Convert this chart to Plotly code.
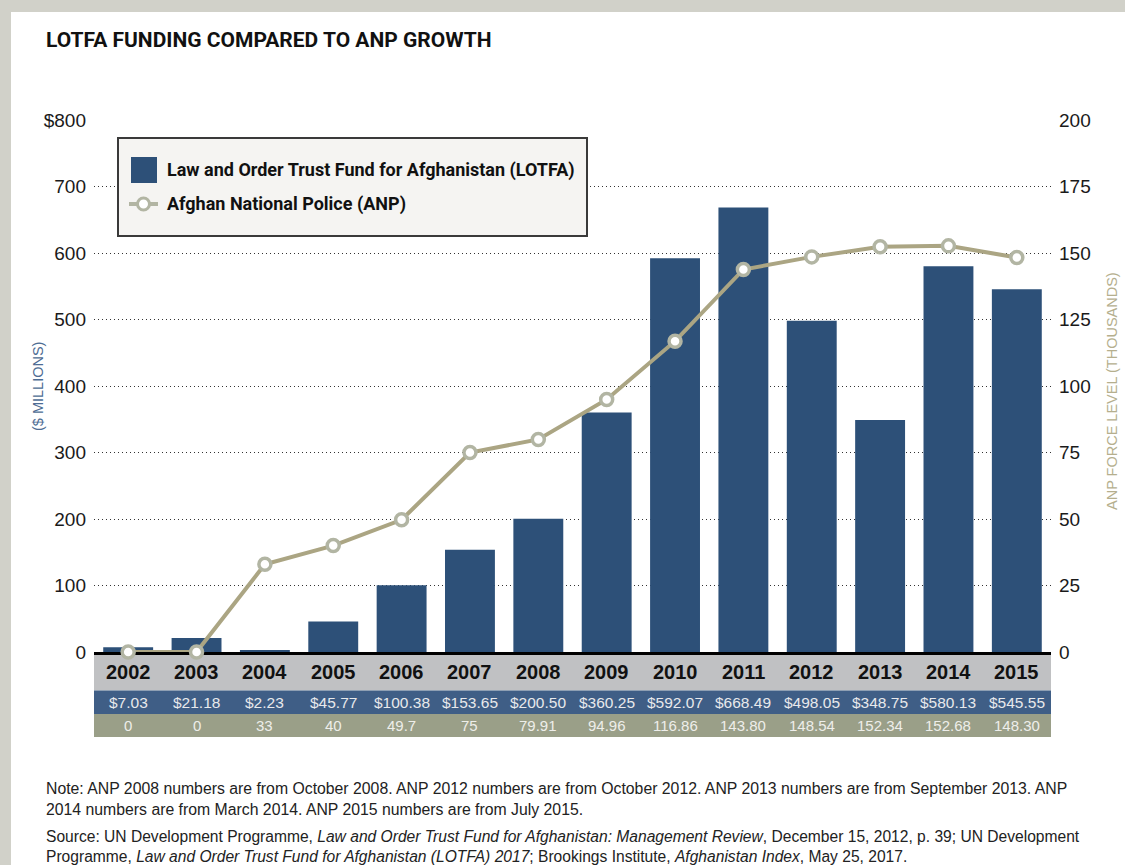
import plotly.graph_objects as go

years = ["2002", "2003", "2004", "2005", "2006", "2007", "2008", "2009",
         "2010", "2011", "2012", "2013", "2014", "2015"]
lotfa = [7.03, 21.18, 2.23, 45.77, 100.38, 153.65, 200.50, 360.25,
         592.07, 668.49, 498.05, 348.75, 580.13, 545.55]
lotfa_labels = ["$7.03", "$21.18", "$2.23", "$45.77", "$100.38", "$153.65", "$200.50",
                "$360.25", "$592.07", "$668.49", "$498.05", "$348.75", "$580.13", "$545.55"]
anp = [0, 0, 33, 40, 49.7, 75, 79.91, 94.96, 116.86, 143.80, 148.54, 152.34, 152.68, 148.30]
anp_labels = ["0", "0", "33", "40", "49.7", "75", "79.91", "94.96", "116.86",
              "143.80", "148.54", "152.34", "152.68", "148.30"]
left_ticks = [0, 100, 200, 300, 400, 500, 600, 700, 800]
left_ticktext = ["0", "100", "200", "300", "400", "500", "600", "700", "$800"]
right_ticks = [0, 25, 50, 75, 100, 125, 150, 175, 200]

W, H = 1125, 865
L, R, T, B = 94, 1051, 120, 652

NAVY = "#2D5078"
KHAKI = "#ABA583"
MARK = "#B2B5A3"
BOLDN = "Roboto, Liberation Sans, Arial, sans-serif"
SANS = "Liberation Sans, Arial, sans-serif"


def px(x):
    return (x - L) / (R - L)


def py(y):
    return (B - y) / (B - T)


fig = go.Figure()
fig.add_trace(go.Bar(x=years, y=lotfa, marker=dict(color=NAVY, line=dict(width=0)),
                     width=0.73, name="Law and Order Trust Fund for Afghanistan (LOTFA)",
                     showlegend=False))
fig.add_trace(go.Scatter(x=years, y=anp, yaxis="y2", mode="lines+markers",
                         line=dict(color=KHAKI, width=4),
                         marker=dict(size=12, color="white", line=dict(color=MARK, width=3.5)),
                         cliponaxis=False, name="Afghan National Police (ANP)",
                         showlegend=False))

shapes = []
annotations = []

# page panel
shapes.append(dict(type="rect", xref="paper", yref="paper", layer="below",
                   x0=px(11), x1=px(1135), y0=py(875), y1=py(12),
                   fillcolor="white", line=dict(width=0)))

# table rows
rows = [(B, 690.5, "#C0C1C3"), (690.5, 714, "#3F5E86"), (714, 737, "#9A9F88")]
for y0, y1, c in rows:
    shapes.append(dict(type="rect", xref="paper", yref="paper", layer="below",
                       x0=0, x1=1, y0=py(y1), y1=py(y0), fillcolor=c, line=dict(width=0)))

# table text: category axis positions (index of each category)
for i, yr in enumerate(years):
    annotations.append(dict(x=i, xref="x", y=py(672), yref="paper", text=yr,
                            showarrow=False, xanchor="center", yanchor="middle",
                            font=dict(family=SANS, size=20, color="#111", weight="bold")))
    annotations.append(dict(x=i, xref="x", y=py(702.5), yref="paper", text=lotfa_labels[i],
                            showarrow=False, xanchor="center", yanchor="middle",
                            font=dict(family=SANS, size=15.5, color="#E8E9EC")))
    annotations.append(dict(x=i, xref="x", y=py(725.5), yref="paper", text=anp_labels[i],
                            showarrow=False, xanchor="center", yanchor="middle",
                            font=dict(family=SANS, size=15, color="#EEEEEA")))

# legend box
shapes.append(dict(type="rect", xref="paper", yref="paper", layer="above",
                   x0=px(118), x1=px(587), y0=py(236), y1=py(138),
                   fillcolor="#F5F4F2", line=dict(color="#3a3a3a", width=2)))
shapes.append(dict(type="rect", xref="paper", yref="paper", layer="above",
                   x0=px(131), x1=px(157), y0=py(183), y1=py(157),
                   fillcolor=NAVY, line=dict(width=0)))
shapes.append(dict(type="line", xref="paper", yref="paper", layer="above",
                   x0=px(129), x1=px(158), y0=py(204), y1=py(204),
                   line=dict(color=MARK, width=4)))
shapes.append(dict(type="circle", xref="paper", yref="paper", layer="above",
                   x0=px(137.5), x1=px(149.5), y0=py(210), y1=py(198),
                   fillcolor="white", line=dict(color=MARK, width=3)))
annotations.append(dict(x=px(165), y=py(170), xref="paper", yref="paper",
                        text="Law and Order Trust Fund for Afghanistan (LOTFA)",
                        showarrow=False, xanchor="left", yanchor="middle",
                        font=dict(family=BOLDN, size=18, color="#111", weight="bold")))
annotations.append(dict(x=px(165), y=py(204), xref="paper", yref="paper",
                        text="Afghan National Police (ANP)",
                        showarrow=False, xanchor="left", yanchor="middle",
                        font=dict(family=BOLDN, size=18, color="#111", weight="bold")))

# title
annotations.append(dict(x=px(44), y=py(40), xref="paper", yref="paper",
                        text="LOTFA FUNDING COMPARED TO ANP GROWTH",
                        showarrow=False, xanchor="left", yanchor="middle",
                        font=dict(family=BOLDN, size=21, color="#111", weight="bold")))

# axis titles
annotations.append(dict(x=px(38), y=py(387), xref="paper", yref="paper",
                        text="($ MILLIONS)", textangle=-90, showarrow=False,
                        xanchor="center", yanchor="middle",
                        font=dict(family=SANS, size=14.5, color="#4D6C93")))
annotations.append(dict(x=px(1112), y=py(391), xref="paper", yref="paper",
                        text="ANP FORCE LEVEL (THOUSANDS)", textangle=-90, showarrow=False,
                        xanchor="center", yanchor="middle",
                        font=dict(family=SANS, size=14.5, color="#B5AF8E")))

# notes
note = ("Note: ANP 2008 numbers are from October 2008. ANP 2012 numbers are from October 2012. "
        "ANP 2013 numbers are from September 2013. ANP<br>2014 numbers are from March 2014. "
        "ANP 2015 numbers are from July 2015.")
source = ("Source: UN Development Programme, <i>Law and Order Trust Fund for Afghanistan: "
          "Management Review</i>, December 15, 2012, p. 39; UN Development<br>Programme, "
          "<i>Law and Order Trust Fund for Afghanistan (LOTFA) 2017</i>; Brookings Institute, "
          "<i>Afghanistan Index</i>, May 25, 2017.")
annotations.append(dict(x=px(44), y=py(798.5), xref="paper", yref="paper", text=note,
                        showarrow=False, xanchor="left", yanchor="middle", align="left",
                        font=dict(family=SANS, size=15.8, color="#222")))
annotations.append(dict(x=px(44), y=py(846.5), xref="paper", yref="paper", text=source,
                        showarrow=False, xanchor="left", yanchor="middle", align="left",
                        font=dict(family=SANS, size=15.6, color="#222")))

fig.update_layout(
    width=W, height=H,
    margin=dict(l=L, r=W - R, t=T, b=H - B, pad=0),
    paper_bgcolor="#D1D1C9",
    plot_bgcolor="white",
    shapes=shapes,
    annotations=annotations,
    showlegend=False,
    xaxis=dict(type="category", showticklabels=False, showgrid=False, zeroline=False,
               ticks="", showline=True, linecolor="#000", linewidth=3,
               layer="below traces", range=[-0.5, 13.5], fixedrange=True),
    yaxis=dict(range=[0, 800], tickvals=left_ticks, ticktext=left_ticktext,
               showgrid=True, gridcolor="#333", griddash="1px,3px", gridwidth=1,
               zeroline=False, ticks="", ticklabelstandoff=7,
               tickfont=dict(family=SANS, size=19, color="#1a1a1a")),
    yaxis2=dict(range=[0, 200], tickvals=right_ticks, overlaying="y", side="right",
                showgrid=False, zeroline=False, ticks="", ticklabelstandoff=7,
                tickfont=dict(family=SANS, size=19, color="#1a1a1a")),
)

fig.write_html("out.html", config={"displayModeBar": False},
               post_script="document.body.style.margin='0';"
                           "document.body.style.background='#D1D1C9';")
